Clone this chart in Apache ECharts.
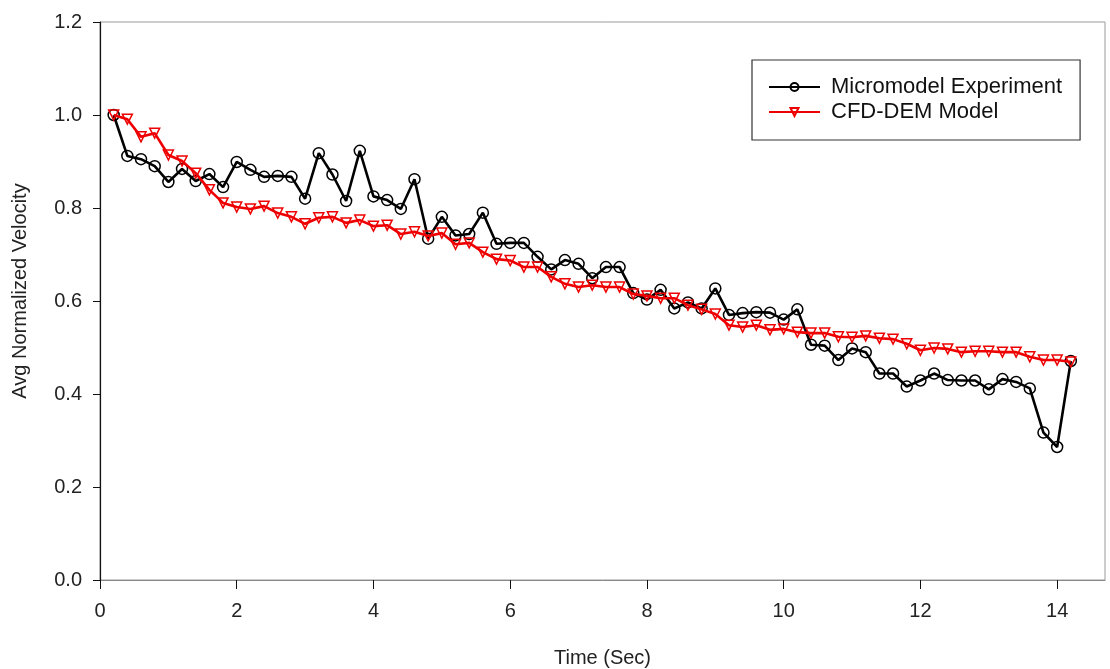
<!DOCTYPE html>
<html>
<head>
<meta charset="utf-8">
<script src="https://cdn.jsdelivr.net/npm/echarts@6/dist/echarts.min.js"></script>
<style>html,body{margin:0;padding:0;background:#fff}#c{width:1110px;height:669px}</style>
</head>
<body>
<div id="c"></div>
<script>
var timeSec = [0.2,0.4,0.6,0.8,1.0,1.2,1.4,1.6,1.8,2.0,2.2,2.4,2.6,2.8,3.0,3.2,3.4,3.6,3.8,4.0,4.2,4.4,4.6,4.8,5.0,5.2,5.4,5.6,5.8,6.0,6.2,6.4,6.6,6.8,7.0,7.2,7.4,7.6,7.8,8.0,8.2,8.4,8.6,8.8,9.0,9.2,9.4,9.6,9.8,10.0,10.2,10.4,10.6,10.8,11.0,11.2,11.4,11.6,11.8,12.0,12.2,12.4,12.6,12.8,13.0,13.2,13.4,13.6,13.8,14.0,14.2];
var experiment = [1.000,0.912,0.905,0.890,0.856,0.884,0.858,0.873,0.845,0.899,0.882,0.867,0.869,0.867,0.820,0.918,0.872,0.815,0.923,0.825,0.817,0.798,0.862,0.734,0.781,0.741,0.744,0.790,0.723,0.725,0.725,0.695,0.668,0.688,0.680,0.649,0.673,0.673,0.617,0.603,0.624,0.584,0.597,0.584,0.627,0.570,0.574,0.576,0.575,0.560,0.582,0.506,0.504,0.473,0.498,0.490,0.444,0.444,0.416,0.429,0.444,0.430,0.429,0.429,0.410,0.432,0.426,0.412,0.317,0.286,0.471];
var cfdDem = [1.000,0.991,0.953,0.961,0.914,0.901,0.875,0.839,0.811,0.802,0.798,0.804,0.789,0.781,0.766,0.779,0.781,0.768,0.774,0.761,0.763,0.744,0.749,0.740,0.746,0.722,0.725,0.705,0.690,0.687,0.673,0.673,0.652,0.637,0.630,0.634,0.630,0.630,0.615,0.611,0.606,0.606,0.591,0.582,0.572,0.548,0.544,0.548,0.538,0.540,0.533,0.531,0.531,0.523,0.522,0.525,0.520,0.518,0.508,0.494,0.499,0.497,0.490,0.492,0.492,0.490,0.490,0.480,0.473,0.473,0.469];
var seriesNames = ['Micromodel Experiment','CFD-DEM Model'];

function pairs(ys){ return timeSec.map(function(t,i){ return [t, ys[i]]; }); }

var chart = echarts.init(document.getElementById('c'), null, {renderer:'canvas'});
var font = 'Arial, "Liberation Sans", sans-serif';
chart.setOption({
  animation: false,
  backgroundColor: '#fff',
  grid: {left: 100, top: 22, right: 5, bottom: 89, show: true, borderColor: '#9a9a9a', borderWidth: 1,
         outerBoundsMode: 'none', containLabel: false},
  legend: {
    left: 752, top: 60, orient: 'vertical',
    borderColor: '#333', borderWidth: 1.2,
    padding: [16, 18, 17, 16],
    itemWidth: 51, itemHeight: 10, itemGap: 3,
    textStyle: {fontFamily: font, fontSize: 22, lineHeight: 22, color: '#111', padding: [0, 0, 0, 6]},
    data: seriesNames
  },
  xAxis: {
    type: 'value', min: 0, max: 14.7, interval: 2,
    name: 'Time (Sec)', nameLocation: 'middle', nameGap: 68,
    nameTextStyle: {fontFamily: font, fontSize: 20, color: '#222'},
    axisLine: {show: true, lineStyle: {color: '#888', width: 1}},
    axisTick: {show: true, length: 9, lineStyle: {color: '#111', width: 1}},
    axisLabel: {fontFamily: font, fontSize: 20, color: '#222', margin: 21, showMaxLabel: false},
    splitLine: {show: false}
  },
  yAxis: {
    type: 'value', min: 0, max: 1.2, interval: 0.2,
    name: 'Avg Normalized Velocity', nameLocation: 'middle', nameGap: 70,
    nameTextStyle: {fontFamily: font, fontSize: 20, color: '#222', padding: [0, 0, 0, 20]},
    axisLine: {show: true, lineStyle: {color: '#111', width: 1.2}},
    axisTick: {show: true, length: 7, lineStyle: {color: '#111', width: 1}},
    axisLabel: {fontFamily: font, fontSize: 20, color: '#222', margin: 18,
      formatter: function(v){ return v.toFixed(1); }},
    splitLine: {show: false}
  },
  series: [
    {
      name: seriesNames[0], type: 'line', data: pairs(experiment),
      symbol: 'circle', symbolSize: 11, z: 2,
      lineStyle: {color: '#000', width: 2.6},
      itemStyle: {color: 'rgba(255,255,255,0)', borderColor: '#000', borderWidth: 1.5}
    },
    {
      name: seriesNames[1], type: 'line', data: pairs(cfdDem),
      symbol: 'triangle', symbolRotate: 180, symbolSize: 10, z: 3,
      lineStyle: {color: '#ee0000', width: 2.6},
      itemStyle: {color: 'rgba(255,255,255,0)', borderColor: '#ee0000', borderWidth: 1.5}
    }
  ]
});
</script>
</body>
</html>
